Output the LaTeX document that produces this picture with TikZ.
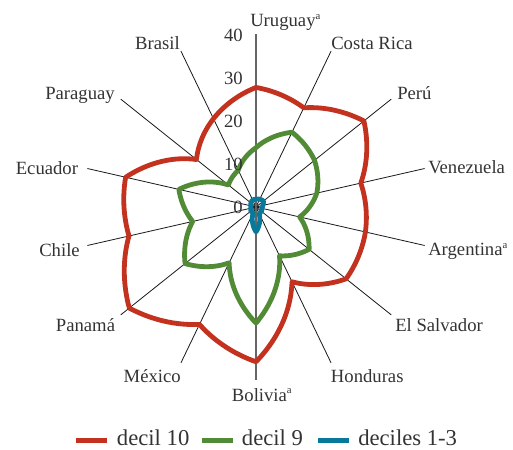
\documentclass[tikz,border=0pt]{standalone}
\usepackage{fontspec}
\setmainfont{Liberation Serif}
\usepackage{xcolor}
\usepackage{tikz}

\definecolor{dten}{HTML}{C3321F}
\definecolor{dnine}{HTML}{518B35}
\definecolor{dlow}{HTML}{08799A}
\definecolor{txt}{HTML}{333333}

% values: Uruguay, Costa Rica, Peru, ... Brasil (clockwise)
\def\vten{{27.8,25.6,32.1,25.0,26.1,26.8,19.3,36.0,30.3,37.7,30.3,31.1,17.7,22.8}}
\def\vnine{{13.8,19.3,17.4,14.5,10.4,15.8,12.6,27.0,14.4,21.1,15.1,18.4,8.2,9.5}}
\def\vlow{{1.8,2.0,2.2,1.6,1.4,1.6,1.6,5.8,1.5,1.5,1.2,1.2,1.5,1.8}}

\newcommand{\nota}{\raisebox{0.85ex}{\fontsize{8}{8}\selectfont a}}
\newcommand{\radarline}[2]{%
  \draw[#1] plot[domain=0:14, samples=281, variable=\t]
    ({90-\t*360/14}:{4.3*((1-\t+floor(\t))*#2[int(mod(floor(\t),14))]+(\t-floor(\t))*#2[int(mod(floor(\t)+1,14))])}) -- cycle;}

\begin{document}
\begin{tikzpicture}[x=0.75pt,y=0.75pt,line join=round]
    \tikzstyle{cty}=[text=txt, inner sep=0pt, font=\fontsize{14}{16}\selectfont]
    \tikzstyle{tick}=[text=txt, inner sep=0pt, font=\fontsize{14}{16}\selectfont]
    \tikzstyle{leg}=[text=txt, inner sep=0pt, font=\fontsize{17}{20}\selectfont]
    \tikzstyle{spoke}=[black!90, line width=0.6pt]
    \tikzstyle{vspoke}=[black!60, line width=1.1pt]
    \tikzstyle{d10}=[dten, line width=3.6pt]
    \tikzstyle{d9}=[dnine, line width=3.6pt]
    \tikzstyle{d13}=[dlow, line width=3.6pt]
    \useasboundingbox (-256,-242) rectangle (257,207);

    \coordinate (O) at (0,0);
    \foreach \k in {0,...,13}
        \coordinate (e\k) at ({90-\k*360/14}:173);
    \foreach \k in {1,...,6,8,9,...,13}
        \draw [spoke] (O) -- (e\k);
    \draw [vspoke] (O) -- (e0);
    \draw [vspoke] (O) -- (e7);

    \radarline{d10}{\vten}
    \radarline{d9}{\vnine}
    \radarline{d13}{\vlow}

    \foreach \v in {0,10,20,30,40}
        \node [tick, anchor=base east] (t\v) at (-13,{4.3*\v-6.3}) {\v};

    \node [cty, anchor=base west] (uy) at (-6, 180.3) {Uruguay\nota};
    \node [cty, anchor=base west] (cr) at (75, 157.7) {Costa Rica};
    \node [cty, anchor=base west] (pe) at (141, 107.5) {Perú};
    \node [cty, anchor=base west] (ve) at (172, 33) {Venezuela};
    \node [cty, anchor=base west] (ar) at (172, -48.5) {Argentina\nota};
    \node [cty, anchor=base west] (sv) at (139, -124) {El Salvador};
    \node [cty, anchor=base west] (hn) at (74.7, -175) {Honduras};
    \node [cty, anchor=base west] (bo) at (-24.3, -194) {Bolivia\nota};
    \node [cty, anchor=base east] (mx) at (-75, -175) {México};
    \node [cty, anchor=base east] (pa) at (-140.7, -124) {Panamá};
    \node [cty, anchor=base east] (cl) at (-176, -49.7) {Chile};
    \node [cty, anchor=base east] (ec) at (-177.7, 32.7) {Ecuador};
    \node [cty, anchor=base east] (py) at (-141, 107.5) {Paraguay};
    \node [cty, anchor=base east] (br) at (-76, 157.7) {Brasil};

    \node [leg, anchor=base west] (l10) at (-139.3, -238) {decil 10};
    \node [leg, anchor=base west] (l9) at (-14.3, -238) {decil 9};
    \node [leg, anchor=base west] (l13) at (102, -238) {deciles 1-3};
    \draw [d10] ([shift={(-41,4.5)}]l10.base west) -- ++(31,0);
    \draw [d9] ([shift={(-40,4.5)}]l9.base west) -- ++(31,0);
    \draw [d13] ([shift={(-40,4.5)}]l13.base west) -- ++(31,0);
\end{tikzpicture}
\end{document}
